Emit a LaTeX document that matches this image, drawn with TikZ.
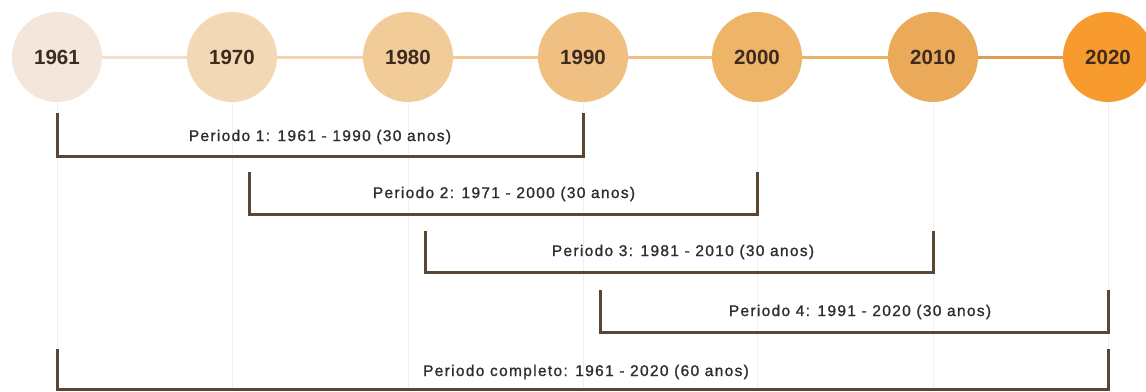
\documentclass[tikz,border=0pt]{standalone}
\usepackage{fontspec}
\setmainfont{Liberation Sans}
\newfontfamily\periodfont[LetterSpace=8.5,FakeBold=1.2]{Liberation Sans}
\usetikzlibrary{positioning}
\definecolor{yrA}{HTML}{F4E6DA}
\definecolor{yrB}{HTML}{F3D8B6}
\definecolor{yrC}{HTML}{F1CB98}
\definecolor{yrD}{HTML}{F0C083}
\definecolor{yrE}{HTML}{EEB468}
\definecolor{yrF}{HTML}{EBA95A}
\definecolor{yrG}{HTML}{F89B2E}
\definecolor{yeartext}{HTML}{3D2B1F}
\definecolor{labeltext}{HTML}{2E2E2E}
\definecolor{bracketbrown}{HTML}{5B4634}
\definecolor{bracketglow}{HTML}{F8DDBA}
\definecolor{gridgray}{HTML}{EFEFEF}
\tikzset{
  year/.style={circle, minimum size=90pt, inner sep=0pt, text=yeartext,
    font=\fontsize{20.5}{24}\selectfont\bfseries},
  link/.style={line width=3pt},
  gridline/.style={gridgray, line width=1pt},
  period/.style={bracketbrown, line width=3pt},
  periodglow/.style={bracketglow, line width=3pt, xshift=1.5pt, yshift=-1.5pt},
  periodlabel/.style={text=labeltext, inner sep=0pt,
    font=\periodfont\fontsize{15.5}{18}\selectfont}
}

\begin{document}
\begin{tikzpicture}[x=1pt,y=1pt]
	\useasboundingbox (0,0) rectangle (1146,-391);
	\clip (0,0) rectangle (1146,-391);
	\coordinate (base) at (0,-391);

	% the decades
	\node[year, fill=yrA] (c1961) at (57,-57) {1961};
	\node[year, fill=yrB] (c1970) at (232,-57) {1970};
	\node[year, fill=yrC] (c1980) at (408,-57) {1980};
	\node[year, fill=yrD] (c1990) at (583,-57) {1990};
	\node[year, fill=yrE] (c2000) at (757,-57) {2000};
	\node[year, fill=yrF] (c2010) at (933,-57) {2010};
	\node[year, fill=yrG] (c2020) at (1108,-57) {2020};

	\draw[link, color=yrA!60!yrB] (c1961) -- (c1970);
	\draw[link, color=yrB!80!yrC] (c1970) -- (c1980);
	\draw[link, color=yrC!80!yrD] (c1980) -- (c1990);
	\draw[link, color=yrD!80!yrE] (c1990) -- (c2000);
	\draw[link, color=yrE!80!yrF] (c2000) -- (c2010);
	\draw[link, color=yrF!70!brown] (c2010) -- (c2020);

	% faint guides under the circles
	\draw[gridline] (c1961.south) -- (c1961.south |- base);
	\draw[gridline] (c1970.south) -- (c1970.south |- base);
	\draw[gridline] (c1980.south) -- (c1980.south |- base);
	\draw[gridline] (c1990.south) -- (c1990.south |- base);
	\draw[gridline] (c2000.south) -- (c2000.south |- base);
	\draw[gridline] (c2010.south) -- (c2010.south |- base);
	\draw[gridline] (c2020.south) -- (c2020.south |- base);

	% the periods
	\coordinate (p1a) at (57,-113);    \coordinate (p1b) at (583,-113);
	\coordinate (p2a) at (249.5,-172); \coordinate (p2b) at (757,-172);
	\coordinate (p3a) at (425.5,-231); \coordinate (p3b) at (933,-231);
	\coordinate (p4a) at (600.5,-290); \coordinate (p4b) at (1108,-290);
	\coordinate (p5a) at (57,-349);    \coordinate (p5b) at (1108,-349);

	\draw[periodglow] (p1a) -- ++(0,-43) -| (p1b);
	\draw[period] (p1a) -- ++(0,-43) -| (p1b);
	\node[periodlabel] (l1) at (320,-137) {Periodo 1: 1961 - 1990 (30 anos)};

	\draw[periodglow] (p2a) -- ++(0,-42) -| (p2b);
	\draw[period] (p2a) -- ++(0,-42) -| (p2b);
	\node[periodlabel] (l2) at (504,-194) {Periodo 2: 1971 - 2000 (30 anos)};

	\draw[periodglow] (p3a) -- ++(0,-41) -| (p3b);
	\draw[period] (p3a) -- ++(0,-41) -| (p3b);
	\node[periodlabel] (l3) at (683,-252) {Periodo 3: 1981 - 2010 (30 anos)};

	\draw[periodglow] (p4a) -- ++(0,-42) -| (p4b);
	\draw[period] (p4a) -- ++(0,-42) -| (p4b);
	\node[periodlabel] (l4) at (860,-312) {Periodo 4: 1991 - 2020 (30 anos)};

	\draw[periodglow] (p5a) -- ++(0,-40.5) -| (p5b);
	\draw[period] (p5a) -- ++(0,-40.5) -| (p5b);
	\node[periodlabel] (l5) at (586,-372) {Periodo completo: 1961 - 2020 (60 anos)};
\end{tikzpicture}
\end{document}
